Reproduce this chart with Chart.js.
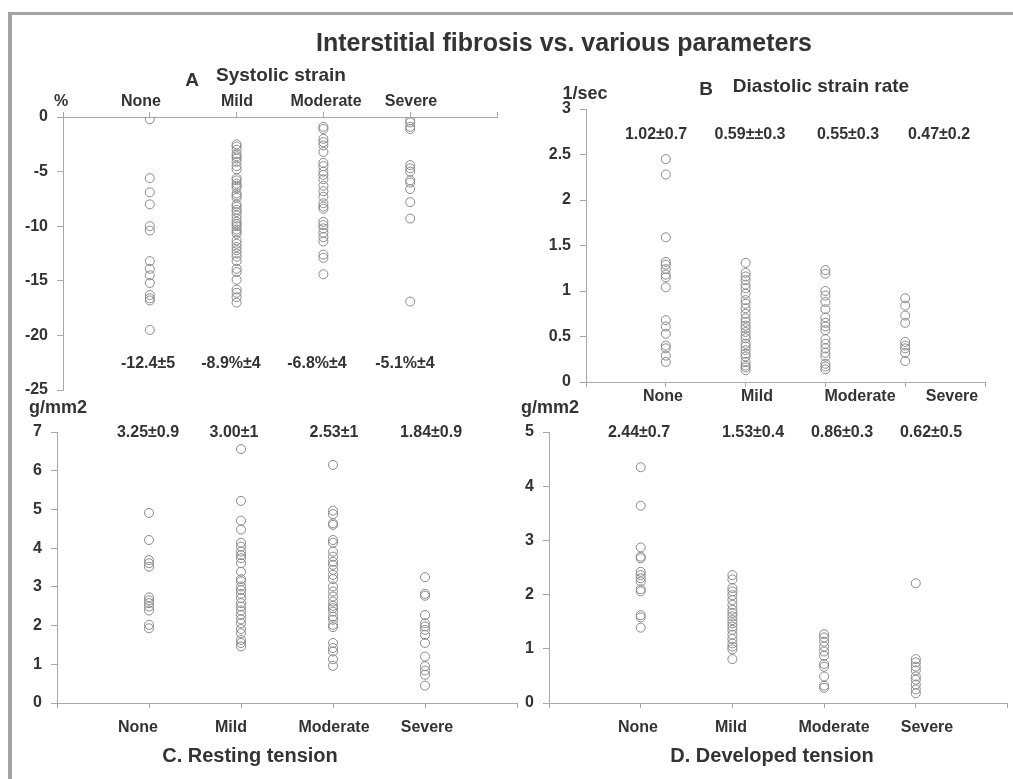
<!DOCTYPE html>
<html>
<head>
<meta charset="utf-8">
<script src="https://cdn.jsdelivr.net/npm/chart.js@4.4.0/dist/chart.umd.min.js"></script>
<style>
  body { margin: 0; background: #fff; }
  #page { position: relative; width: 1013px; height: 779px; overflow: hidden;
          font-family: "Liberation Sans", Arial, sans-serif; font-weight: bold; color: #333; }
  #page canvas { position: absolute; left: 0; top: 0; }
  #frame { position: absolute; left: 8px; top: 12px; right: -10px; bottom: -10px;
           border-top: 3px solid #a3a3a3; border-left: 4px solid #a3a3a3; }
  .t { position: absolute; white-space: nowrap; transform: translate(-50%, -50%); font-size: 16px; }
</style>
</head>
<body>
<div id="page">
  <div id="frame"></div>
  <canvas id="chartA" width="1013" height="779"></canvas>
  <canvas id="chartB" width="1013" height="779"></canvas>
  <canvas id="chartC" width="1013" height="779"></canvas>
  <canvas id="chartD" width="1013" height="779"></canvas>
</div>
<script>
const categories = ["None", "Mild", "Moderate", "Severe"];

// A - systolic strain (%)
const systolicNone = [-0.2, -5.6, -6.9, -8.0, -10.0, -10.4, -13.2, -13.9, -14.5, -15.2, -16.3, -16.6, -16.8, -19.5];
const systolicMild = [-2.5, -2.7, -3.0, -3.4, -3.6, -3.8, -4.1, -4.5, -4.8, -5.6, -5.8, -6.1, -6.3, -6.5, -7.0, -7.2,
  -7.4, -8.0, -8.2, -8.5, -8.7, -9.0, -9.3, -9.6, -9.8, -10.0, -10.3, -10.5, -10.7, -11.3, -11.6, -11.9, -12.2,
  -12.5, -12.8, -13.2, -13.9, -14.2, -14.9, -15.8, -16.1, -16.5, -17.0];
const systolicModerate = [-0.9, -1.1, -2.0, -2.3, -2.6, -3.2, -4.2, -4.5, -5.0, -5.3, -5.7, -6.3, -6.8, -7.3, -7.9,
  -8.2, -8.4, -9.6, -9.9, -10.2, -10.6, -11.0, -11.4, -12.6, -12.9, -14.4];
const systolicSevere = [-0.3, -0.5, -0.9, -1.1, -4.4, -4.7, -5.0, -5.8, -6.0, -6.6, -7.8, -9.3, -16.9];
const systolicStats = ["-12.4±5", "-8.9%±4", "-6.8%±4", "-5.1%±4"];

// B - diastolic strain rate (1/sec)
const diastolicNone = [2.45, 2.28, 1.59, 1.32, 1.29, 1.24, 1.18, 1.15, 1.04, 0.68, 0.61, 0.53, 0.40, 0.37, 0.29, 0.22];
const diastolicMild = [1.31, 1.20, 1.16, 1.12, 1.07, 1.03, 0.97, 0.90, 0.86, 0.81, 0.75, 0.70, 0.66, 0.62, 0.59,
  0.55, 0.51, 0.48, 0.42, 0.39, 0.35, 0.31, 0.28, 0.22, 0.18, 0.16, 0.13];
const diastolicModerate = [1.23, 1.19, 1.00, 0.95, 0.88, 0.80, 0.71, 0.65, 0.61, 0.57, 0.47, 0.42, 0.37, 0.32, 0.28,
  0.20, 0.17, 0.14];
const diastolicSevere = [0.92, 0.84, 0.73, 0.65, 0.44, 0.40, 0.37, 0.32, 0.23];
const diastolicStats = ["1.02±0.7", "0.59±±0.3", "0.55±0.3", "0.47±0.2"];

// C - resting tension (g/mm2)
const restingNone = [4.91, 4.21, 3.69, 3.61, 3.52, 2.73, 2.65, 2.58, 2.49, 2.39, 2.02, 1.93];
const restingMild = [6.56, 5.22, 4.71, 4.48, 4.14, 4.04, 3.91, 3.82, 3.74, 3.61, 3.39, 3.20, 3.14, 3.01, 2.92, 2.82,
  2.71, 2.58, 2.49, 2.39, 2.28, 2.16, 2.06, 1.91, 1.80, 1.63, 1.55, 1.46];
const restingModerate = [6.15, 4.97, 4.88, 4.64, 4.60, 4.21, 4.14, 3.91, 3.78, 3.65, 3.57, 3.44, 3.31, 3.20, 3.01,
  2.88, 2.75, 2.62, 2.51, 2.45, 2.36, 2.23, 2.15, 2.02, 1.96, 1.55, 1.42, 1.33, 1.13, 0.96];
const restingSevere = [3.25, 2.82, 2.77, 2.27, 2.06, 1.98, 1.89, 1.76, 1.55, 1.20, 0.95, 0.84, 0.73, 0.45];
const restingStats = ["3.25±0.9", "3.00±1", "2.53±1", "1.84±0.9"];

// D - developed tension (g/mm2)
const developedNone = [4.35, 3.64, 2.87, 2.70, 2.67, 2.42, 2.36, 2.30, 2.24, 2.10, 2.06, 1.62, 1.58, 1.39];
const developedMild = [2.36, 2.28, 2.12, 2.06, 1.99, 1.90, 1.81, 1.72, 1.66, 1.60, 1.53, 1.47, 1.41, 1.35, 1.26,
  1.18, 1.10, 1.04, 0.99, 0.81];
const developedModerate = [1.27, 1.21, 1.13, 1.04, 0.95, 0.87, 0.72, 0.67, 0.49, 0.32, 0.28];
const developedSevere = [2.21, 0.81, 0.75, 0.67, 0.60, 0.49, 0.43, 0.34, 0.25, 0.18];
const developedStats = ["2.44±0.7", "1.53±0.4", "0.86±0.3", "0.62±0.5"];

const axisColor = "#a8a8a8";
const markColor = "#8a8a8a";
const fontFam = "'Liberation Sans', Arial, sans-serif";

// plot area in page pixels (left, top, right, bottom)
function panel(id, groups, yMin, yMax, yStep, box, xTop) {
  const points = [];
  groups.forEach((vals, i) => vals.forEach(v => points.push({ x: i + 1, y: v })));
  const axisH = 30, axisW = 50;
  new Chart(document.getElementById(id), {
    type: "scatter",
    data: {
      datasets: [{
        data: points,
        pointRadius: 4.5,
        pointBorderWidth: 1,
        pointBorderColor: markColor,
        pointBackgroundColor: "rgba(0,0,0,0)",
      }],
    },
    options: {
      responsive: false,
      animation: false,
      events: [],
      layout: {
        padding: {
          left: box.L - axisW,
          right: 1013 - box.R,
          top: xTop ? box.T - axisH : box.T,
          bottom: xTop ? 779 - box.B : 779 - box.B - axisH,
        },
      },
      plugins: { legend: { display: false }, tooltip: { enabled: false } },
      scales: {
        x: {
          type: "linear",
          position: xTop ? "top" : "bottom",
          min: 0, max: 5,
          afterFit: (s) => { s.height = axisH; },
          ticks: { stepSize: 1, display: false },
          grid: { drawOnChartArea: false, tickLength: 5, color: axisColor },
          border: { color: axisColor },
        },
        y: {
          min: yMin, max: yMax,
          afterFit: (s) => { s.width = axisW; },
          ticks: { stepSize: yStep, color: "#333", padding: 9,
                   callback: (v) => String(Math.round(v * 10) / 10),
                   font: { family: fontFam, size: 16, weight: "bold" } },
          grid: { drawOnChartArea: false, tickLength: 6, color: axisColor },
          border: { color: axisColor },
        },
      },
    },
  });
}

panel("chartA", [systolicNone, systolicMild, systolicModerate, systolicSevere], -25, 0, 5,
  { L: 63, T: 117, R: 497, B: 390 }, true);
panel("chartB", [diastolicNone, diastolicMild, diastolicModerate, diastolicSevere], 0, 3, 0.5,
  { L: 586, T: 109, R: 985, B: 382 }, false);
panel("chartC", [restingNone, restingMild, restingModerate, restingSevere], 0, 7, 1,
  { L: 57, T: 432, R: 517, B: 703 }, false);
panel("chartD", [developedNone, developedMild, developedModerate, developedSevere], 0, 5, 1,
  { L: 549, T: 432, R: 1008, B: 703 }, false);

// text labels (textbox positions taken from the figure)
const page = document.getElementById("page");
function label(text, x, y, size) {
  const d = document.createElement("div");
  d.className = "t";
  d.textContent = text;
  d.style.left = x + "px";
  d.style.top = y + "px";
  if (size) d.style.fontSize = size + "px";
  page.appendChild(d);
}
function row(texts, xs, y) {
  texts.forEach((t, i) => label(t, xs[i], y));
}

label("Interstitial fibrosis vs. various parameters", 564, 42, 25);
label("A", 192, 80, 19);
label("Systolic strain", 281, 75, 19);
label("B", 706, 89, 19);
label("Diastolic strain rate", 821, 86, 19);
label("C. Resting tension", 250, 755, 20);
label("D. Developed tension", 772, 755, 20);

label("%", 61, 101);
label("1/sec", 585, 93, 18);
label("g/mm2", 58, 407, 18);
label("g/mm2", 550, 407, 18);

row(categories, [141, 237, 326, 411], 101);
row(categories, [663, 757, 860, 952], 396);
row(categories, [138, 231, 334, 427], 727);
row(categories, [638, 731, 834, 927], 727);

row(systolicStats, [148, 231, 317, 405], 363);
row(diastolicStats, [656, 750, 848, 939], 134);
row(restingStats, [148, 234, 334, 431], 432);
row(developedStats, [639, 753, 842, 931], 432);
</script>
</body>
</html>
